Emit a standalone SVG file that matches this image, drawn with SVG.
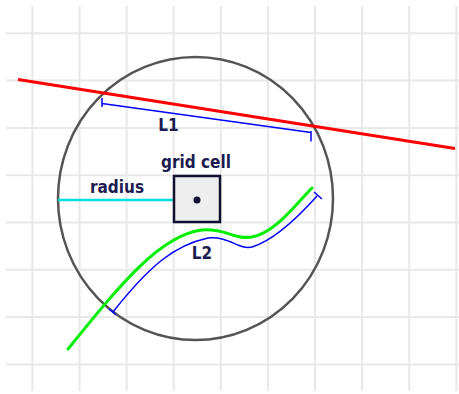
<svg xmlns="http://www.w3.org/2000/svg" width="459" height="394" viewBox="0 0 459 394">
<style>
.grid line{stroke:#e8e8e8;stroke-width:2}
.lbl{font-family:"DejaVu Sans Condensed","DejaVu Sans","Liberation Sans",sans-serif;font-stretch:condensed;font-weight:bold;font-size:17px;fill:#1c1c50}
.dim{fill:none;stroke:#0000ff;stroke-width:1.5}
</style>
<rect width="459" height="394" fill="#ffffff"/>
<g class="grid" id="grid">
<line x1="6" y1="33.3" x2="459" y2="33.3"/>
<line x1="6" y1="80.6" x2="459" y2="80.6"/>
<line x1="6" y1="127.9" x2="459" y2="127.9"/>
<line x1="6" y1="175.2" x2="459" y2="175.2"/>
<line x1="6" y1="222.5" x2="459" y2="222.5"/>
<line x1="6" y1="269.8" x2="459" y2="269.8"/>
<line x1="6" y1="317.1" x2="459" y2="317.1"/>
<line x1="6" y1="364.4" x2="459" y2="364.4"/>
<line x1="32.4" y1="6" x2="32.4" y2="391"/>
<line x1="79.5" y1="6" x2="79.5" y2="391"/>
<line x1="126.6" y1="6" x2="126.6" y2="391"/>
<line x1="173.7" y1="6" x2="173.7" y2="391"/>
<line x1="220.8" y1="6" x2="220.8" y2="391"/>
<line x1="267.9" y1="6" x2="267.9" y2="391"/>
<line x1="315" y1="6" x2="315" y2="391"/>
<line x1="362.1" y1="6" x2="362.1" y2="391"/>
<line x1="409.2" y1="6" x2="409.2" y2="391"/>
<line x1="456.3" y1="6" x2="456.3" y2="391"/>
</g>
<g id="circle">
<ellipse cx="195.5" cy="198.5" rx="137.5" ry="141.5" fill="none" stroke="#555555" stroke-width="2.5"/>
</g>
<g id="connectors">
<line id="radius-line" x1="58" y1="200" x2="197" y2="200" stroke="#00e0e0" stroke-width="2.5"/>
<line id="red-line" x1="18" y1="79.5" x2="455" y2="148.5" stroke="#ff0000" stroke-width="3"/>
<path id="green-curve" d="M68,349 C120,285 160,235 202,230 C225,228 235,240 252,237 C275,233 295,205 312,188" fill="none" stroke="#00ee00" stroke-width="3" stroke-linecap="round"/>
<g id="L1-dim" class="dim">
<line x1="102" y1="103.5" x2="311" y2="132.5"/>
<line x1="102" y1="98" x2="102" y2="107"/>
<line x1="311" y1="131" x2="311" y2="141.5"/>
</g>
<g id="L2-dim" class="dim">
<path d="M113,312 C150,265 175,245 208,238 C230,236 238,250 252,247 C275,240 300,215 317,196"/>
<line x1="314" y1="192" x2="322" y2="199"/>
<line x1="109" y1="309" x2="116" y2="315"/>
</g>
</g>
<g id="grid-cell">
<rect x="174" y="176" width="46" height="46" fill="#eeeeee" stroke="#101030" stroke-width="2.5"/>
<circle cx="197" cy="200" r="3.5" fill="#101030"/>
<text class="lbl" x="196" y="168" text-anchor="middle">grid cell</text>
</g>
<g id="labels">
<text class="lbl" x="117" y="193" text-anchor="middle">radius</text>
<text class="lbl" x="168.5" y="131" text-anchor="middle">L1</text>
<text class="lbl" x="202" y="259" text-anchor="middle">L2</text>
</g>
</svg>
